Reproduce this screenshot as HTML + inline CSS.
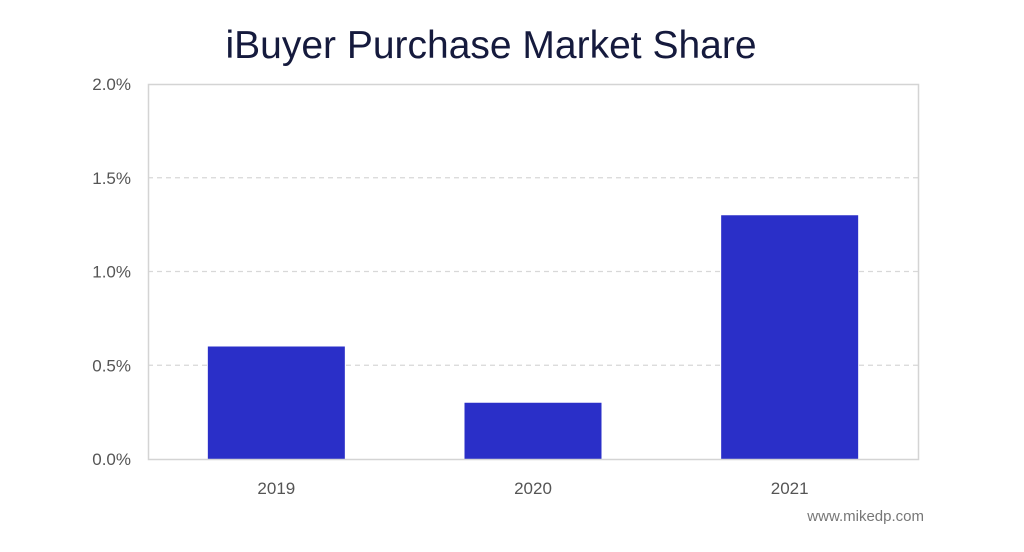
<!DOCTYPE html>
<html><head><meta charset="utf-8"><style>
html,body{margin:0;padding:0;background:#fff;}
body{width:1024px;height:547px;overflow:hidden;font-family:"Liberation Sans",sans-serif;}
</style></head><body>
<svg id="chart" width="1024" height="547" xmlns="http://www.w3.org/2000/svg">
<text x="491" y="58" text-anchor="middle" font-size="39" fill="#151a3d" font-family="Liberation Sans, sans-serif">iBuyer Purchase Market Share</text>
<g id="grid"></g>
<g id="bars"></g>
<g id="labels"></g>
<rect x="148.5" y="84.5" width="770" height="375" fill="none" stroke="#d4d4d4" stroke-width="1.5"/>
<text x="924" y="521" text-anchor="end" font-size="15" fill="#777">www.mikedp.com</text>
</svg>
<script>
const categories=["2019","2020","2021"];
const values=[0.6,0.3,1.3];
const yTicks=[0,0.5,1.0,1.5,2.0];
const yTickLabels=["0.0%","0.5%","1.0%","1.5%","2.0%"];
const NS="http://www.w3.org/2000/svg";
const L=148,R=918,T=84,B=459,yMax=2.0;
const y=v=>B-(v/yMax)*(B-T);
const band=(R-L)/categories.length, bw=137;
const x=i=>L+band*i+band/2;
const grid=document.getElementById('grid'),bars=document.getElementById('bars'),labels=document.getElementById('labels');
function mk(t,a,p){const e=document.createElementNS(NS,t);for(const k in a)e.setAttribute(k,a[k]);p.appendChild(e);return e;}
yTicks.forEach((v,i)=>{
  if(v>0&&v<yMax){const g=mk('line',{x1:L,x2:R,y1:y(v),y2:y(v),stroke:'#d8d8d8','stroke-width':1.2,'stroke-dasharray':'5,4'},grid);
  
  }
  const t=mk('text',{x:131,y:y(v)+6,'text-anchor':'end','font-size':17,fill:'#555'},labels);
  t.textContent=yTickLabels[i];
  
  
});
categories.forEach((c,i)=>{
  const b=mk('rect',{x:x(i)-bw/2,y:y(values[i]),width:bw,height:B-y(values[i]),fill:'#2a2fc8'},bars);
  
  
  const t=mk('text',{x:x(i),y:494,'text-anchor':'middle','font-size':17,fill:'#555'},labels);
  t.textContent=c;
  
  
});
</script>
</body></html>
